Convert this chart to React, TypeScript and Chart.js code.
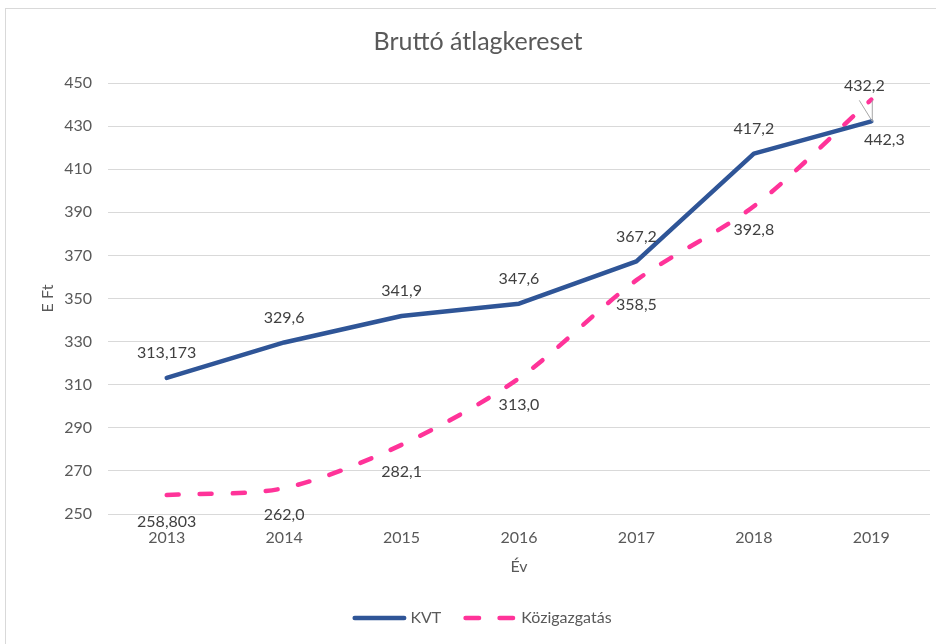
import React, { useEffect, useRef } from 'react';
import { Chart, registerables } from 'chart.js';

Chart.register(...registerables);

const years = ['2013', '2014', '2015', '2016', '2017', '2018', '2019'];
const kvtValues = [313.173, 329.6, 341.9, 347.6, 367.2, 417.2, 432.2];
const kozigValues = [258.803, 262.0, 282.1, 313.0, 358.5, 392.8, 442.3];
const kvtLabels = ['313,173', '329,6', '341,9', '347,6', '367,2', '417,2', '432,2'];
const kozigLabels = ['258,803', '262,0', '282,1', '313,0', '358,5', '392,8', '442,3'];
const yMin = 250;
const yMax = 450;
const yStep = 20;

const FONT = 'Lato, "Open Sans", sans-serif';
const TEXT = '#595959';
const LABEL = '#404040';
const BLUE = '#2F5597';
const PINK = '#FF3399';
const PINK_DASH = [12, 21];

// label offsets (style): [dx, dy] per point
const kvtOffsets = [[0, -25], [0, -25], [0, -25], [0, -25], [0, -25], [0, -25], [-7, -36]];
const kozigOffsets = [[0, 27], [0, 27], [0, 27], [0, 27], [0, 25], [0, 24], [13, 40]];

const dataLabelPlugin = {
  id: 'dataLabelPlugin',
  afterDatasetsDraw(chart: any) {
    const ctx = chart.ctx;
    const sets = [
      { texts: kvtLabels, offs: kvtOffsets, leaderIdx: 6 },
      { texts: kozigLabels, offs: kozigOffsets, leaderIdx: -1 },
    ];
    ctx.save();
    ctx.font = `16px ${FONT}`;
    ctx.textAlign = 'center';
    ctx.textBaseline = 'middle';
    sets.forEach((s, di) => {
      const meta = chart.getDatasetMeta(di);
      meta.data.forEach((pt: any, i: number) => {
        const [dx, dy] = s.offs[i];
        const lx = pt.x + dx;
        const ly = pt.y + dy;
        if (i === s.leaderIdx) {
          ctx.strokeStyle = '#A6A6A6';
          ctx.lineWidth = 1;
          ctx.beginPath();
          ctx.moveTo(pt.x + 1, ly + 15);
          ctx.lineTo(pt.x + 1, pt.y);
          ctx.moveTo(pt.x - 12, ly + 15);
          ctx.lineTo(pt.x + 1, pt.y);
          ctx.stroke();
        }
        ctx.fillStyle = LABEL;
        ctx.fillText(s.texts[i], lx, ly);
      });
    });
    ctx.restore();
  },
};

// custom bottom legend, built from the datasets
const legendPlugin = {
  id: 'bottomLegend',
  afterDraw(chart: any) {
    const ctx = chart.ctx;
    const sampleW = 54;
    const textGap = 4;
    const itemGap = 22;
    const cy = chart.height - 26;
    ctx.save();
    ctx.font = `16px ${FONT}`;
    ctx.textBaseline = 'middle';
    ctx.textAlign = 'left';
    const items = chart.data.datasets.map((ds: any) => ({
      text: ds.label,
      color: ds.borderColor,
      dash: ds.borderDash || [],
      w: ctx.measureText(ds.label).width,
    }));
    const total =
      items.reduce((a: number, it: any) => a + sampleW + textGap + it.w, 0) + itemGap * (items.length - 1);
    let x = chart.width / 2 + 14 - total / 2;
    items.forEach((it: any) => {
      ctx.strokeStyle = it.color;
      ctx.lineWidth = 4.5;
      ctx.lineCap = 'round';
      ctx.beginPath();
      if (it.dash.length) {
        ctx.setLineDash([13.5, 20.5]);
        ctx.moveTo(x + 2.25, cy);
        ctx.lineTo(x + sampleW, cy);
      } else {
        ctx.setLineDash([]);
        ctx.moveTo(x + 2.25, cy);
        ctx.lineTo(x + sampleW - 2.25, cy);
      }
      ctx.stroke();
      ctx.setLineDash([]);
      ctx.fillStyle = TEXT;
      ctx.fillText(it.text, x + sampleW + textGap, cy);
      x += sampleW + textGap + it.w + itemGap;
    });
    ctx.restore();
  },
};

export default function App() {
  const ref = useRef<HTMLCanvasElement>(null);

  useEffect(() => {
    document.body.style.margin = '0';
    const canvas = ref.current;
    if (!canvas) return;
    const chart = new Chart(canvas, {
      type: 'line',
      data: {
        labels: years,
        datasets: [
          {
            label: 'KVT',
            data: kvtValues,
            borderColor: BLUE,
            backgroundColor: BLUE,
            borderWidth: 4.5,
            borderCapStyle: 'round',
            borderJoinStyle: 'round',
            pointRadius: 0,
            pointHoverRadius: 0,
            tension: 0,
          },
          {
            label: 'Közigazgatás',
            data: kozigValues,
            borderColor: PINK,
            backgroundColor: PINK,
            borderWidth: 4.5,
            borderDash: PINK_DASH,
            borderCapStyle: 'round',
            pointRadius: 0,
            pointHoverRadius: 0,
            tension: 0.3,
          },
        ],
      },
      options: {
        responsive: false,
        animation: false,
        layout: { padding: { left: 26, right: 6, top: 20, bottom: 53 } },
        plugins: {
          title: {
            display: true,
            text: 'Bruttó átlagkereset',
            color: TEXT,
            font: { family: FONT, size: 25, weight: 'normal' },
            padding: { top: 7, bottom: 26 },
          },
          legend: { display: false },
          tooltip: { enabled: false },
        },
        scales: {
          x: {
            offset: true,
            grid: { display: false },
            border: { display: false },
            ticks: { color: TEXT, font: { family: FONT, size: 16 }, padding: 6, maxRotation: 0 },
            title: {
              display: true,
              text: 'Év',
              color: TEXT,
              font: { family: FONT, size: 16 },
              padding: { top: 0, bottom: 15 },
            },
            afterFit: (scale: any) => {
              scale.height = 77;
            },
          },
          y: {
            min: yMin,
            max: yMax,
            grid: { color: '#D9D9D9', lineWidth: 1, drawTicks: false },
            border: { display: false },
            ticks: {
              stepSize: yStep,
              color: TEXT,
              font: { family: FONT, size: 16 },
              padding: 16,
            },
            title: {
              display: true,
              text: 'E Ft',
              color: TEXT,
              font: { family: FONT, size: 16 },
              padding: { top: 12, bottom: 0 },
            },
            afterFit: (scale: any) => {
              scale.width = 82;
            },
          },
        },
      },
      plugins: [dataLabelPlugin, legendPlugin],
    } as any);
    return () => chart.destroy();
  }, []);

  return (
    <div style={{ position: 'relative', width: 936, height: 644, overflow: 'hidden', background: '#fff' }}>
      <div
        style={{
          position: 'absolute',
          left: 5,
          top: 8,
          width: 960,
          height: 680,
          border: '1px solid #D9D9D9',
          boxSizing: 'border-box',
        }}
      />
      <canvas ref={ref} width={936} height={644} style={{ position: 'absolute', left: 0, top: 0, display: 'block' }} />
    </div>
  );
}
